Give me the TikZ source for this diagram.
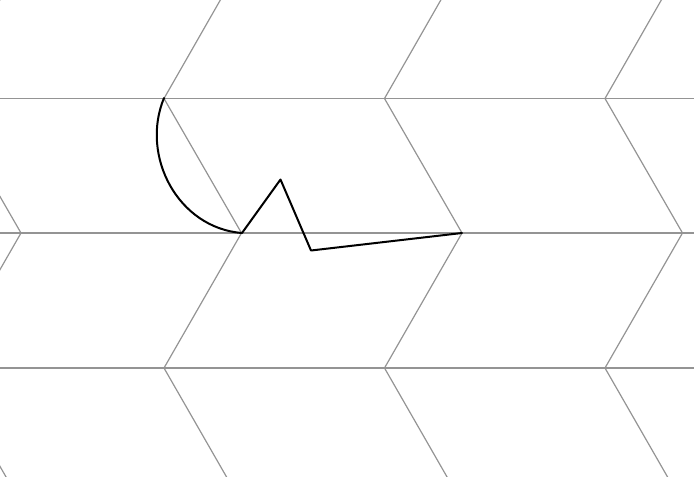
\documentclass[tikz,border=0pt]{standalone}
\usetikzlibrary{calc}
\begin{document}
\begin{tikzpicture}[x=0.75pt,y=-0.75pt,
  gridline/.style={draw=black!42,line width=0.9pt},
  pathline/.style={draw=black,line width=1.5pt,line join=round,line cap=round}]
\useasboundingbox (0,0) rectangle (694,476);
\begin{scope}
\clip (0,0) rectangle (694,476);
\foreach \yy in {98.5,233,368} {\draw[gridline] (-10,\yy) -- (704,\yy);}
\foreach \k in {-1,0,1,2} {
  \pgfmathsetmacro{\xo}{164+220.5*\k}
  \draw[gridline] (\xo+77.5,-37) -- (\xo,98.5) -- (\xo+77.5,233) -- (\xo,368) -- (\xo+77.5,503);
}
\end{scope}
\coordinate (p0) at (164,98);
\coordinate (p1) at (242,233);
\coordinate (p2) at (280.5,179.5);
\coordinate (p3) at (311,250.5);
\coordinate (p4) at (462,233);
\draw[pathline] (p0) .. controls (140,156) and (178,228) .. (p1) -- (p2) -- (p3) -- (p4);
\end{tikzpicture}
\end{document}
